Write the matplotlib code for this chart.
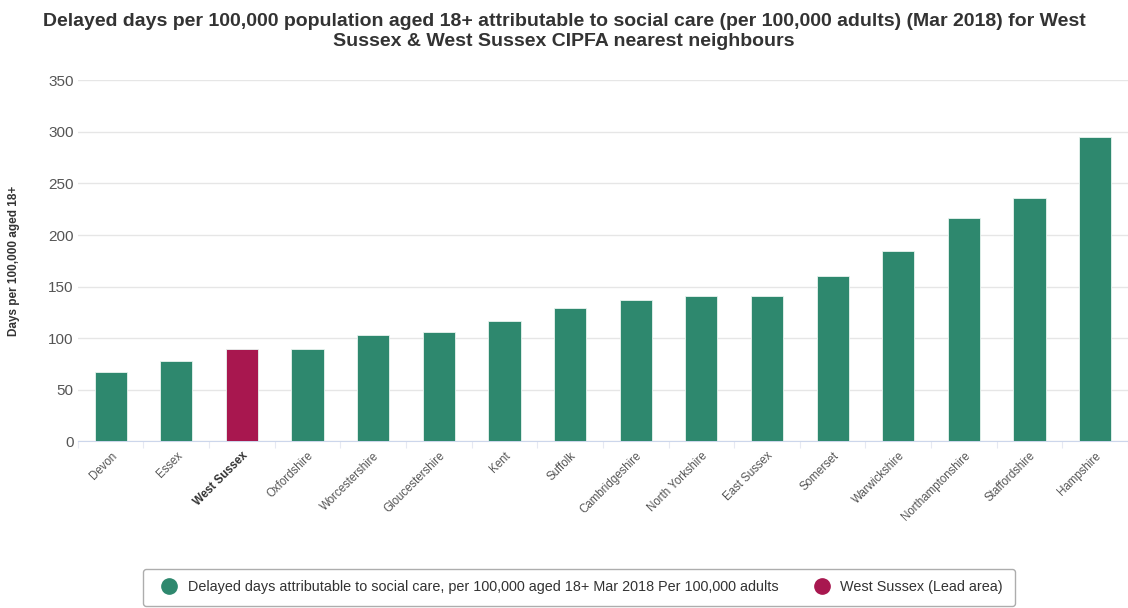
import matplotlib.pyplot as plt
from matplotlib.lines import Line2D

plt.rcParams['font.family'] = ['Liberation Sans', 'DejaVu Sans']

areas = ['Devon', 'Essex', 'West Sussex', 'Oxfordshire', 'Worcestershire',
         'Gloucestershire', 'Kent', 'Suffolk', 'Cambridgeshire', 'North Yorkshire',
         'East Sussex', 'Somerset', 'Warwickshire', 'Northamptonshire',
         'Staffordshire', 'Hampshire']
values = [66.8, 78.1, 89.4, 89.4, 103.6, 105.8, 116.7, 129.7, 136.7, 141.3,
          141.3, 160.6, 184.5, 216.1, 236.1, 294.8]
lead_area = 'West Sussex'
yticks = [0, 50, 100, 150, 200, 250, 300, 350]

green = '#2e886e'
maroon = '#a8174f'

fig = plt.figure(figsize=(11.28, 6.08), dpi=100)
ax = fig.add_axes([0.069, 0.274, 0.931, 0.594])

colors = [maroon if a == lead_area else green for a in areas]
x = range(len(areas))
ax.bar(x, values, width=0.49, color=colors, edgecolor='#e8f4ef', linewidth=0.6, zorder=3)

ax.set_xlim(-0.5, len(areas) - 0.5)
ax.set_ylim(0, 350)
ax.set_yticks(yticks)
ax.yaxis.grid(True, color='#e6e6e6', linewidth=1, zorder=0)
ax.tick_params(axis='y', length=0, labelsize=11, labelcolor='#555555', pad=3)

ax.set_xticks([i + 0.5 for i in range(-1, len(areas))], minor=False)
ax.set_xticklabels([])
ax.tick_params(axis='x', which='major', length=5, color='#e6e9f2', width=0.8)
ax.set_xticks(list(x), minor=True)
ax.set_xticklabels(areas, minor=True, rotation=45, ha='right', rotation_mode='anchor',
                   fontsize=8.3, color='#555555')
ax.tick_params(axis='x', which='minor', length=0, pad=6)
for lab in ax.get_xticklabels(minor=True):
    if lab.get_text() == lead_area:
        lab.set_fontweight('bold')
        lab.set_color('#333333')

for s in ['top', 'right', 'left']:
    ax.spines[s].set_visible(False)
ax.spines['bottom'].set_color('#ccd6eb')

ax.set_ylabel('Days per 100,000 aged 18+', fontsize=8.5, fontweight='bold', color='#333333')
ax.yaxis.set_label_coords(-0.055, 0.5)

fig.text(0.5, 0.978, 'Delayed days per 100,000 population aged 18+ attributable to social care (per 100,000 adults) (Mar 2018) for West\nSussex & West Sussex CIPFA nearest neighbours',
         ha='center', va='top', fontsize=14, fontweight='bold', color='#333333', linespacing=1.2)

handles = [Line2D([], [], marker='o', linestyle='', markersize=11, color=green),
           Line2D([], [], marker='o', linestyle='', markersize=11, color=maroon)]
labels = ['Delayed days attributable to social care, per 100,000 aged 18+ Mar 2018 Per 100,000 adults',
          'West Sussex (Lead area)']
leg = fig.legend(handles, labels, loc='center', bbox_to_anchor=(0.513, 0.034), ncol=2,
                 fontsize=10.4, frameon=True, fancybox=True, edgecolor='#999999',
                 handletextpad=0.3, columnspacing=2.0, borderpad=0.8)
for t in leg.get_texts():
    t.set_color('#333333')

fig.savefig('out.png', dpi=100)
